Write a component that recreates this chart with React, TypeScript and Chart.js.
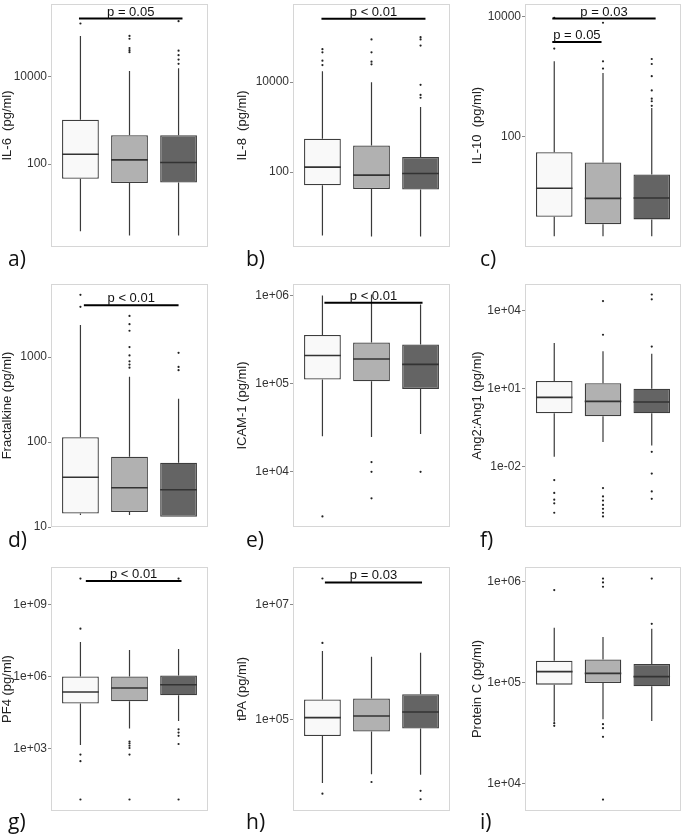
import React, { useEffect, useRef } from 'react';
import { Chart, registerables } from 'chart.js';

Chart.register(...registerables);

// ---------- data ----------
// x positions of the three groups
const GROUPS = [1, 2, 3];
const BOX_COLORS = ['#F9F9F9', '#B1B1B1', '#646464'];

// each box: [lower whisker, Q1, median, Q3, upper whisker]
// a) IL-6
const IL6_BOX = [[2.9, 46, 168, 1040, 87000], [2.3, 37, 125, 460, 13600], [2.3, 38, 109, 460, 15900]];
const IL6_OUT = [[168000], [87000, 75000, 46000, 41000, 37000], [190000, 40000, 31600, 25000, 20000]];
const IL6_SIG: [number, number, number, string][] = [[0.97, 3.08, 218000, 'p = 0.05']];
const IL6_TICKS = [100, 10000];
const IL6_TICK_LABELS = ['100', '10000'];
const IL6_RANGE = [1.26, 470000];

// b) IL-8
const IL8_BOX = [[3.9, 51, 129, 550, 17400], [3.7, 42, 86, 390, 10000], [3.7, 41, 93, 217, 2800]];
const IL8_OUT = [[54000, 46000, 30000, 24000], [89000, 46000, 28500, 24900], [100000, 89000, 65000, 8700, 5200, 4500]];
const IL8_SIG: [number, number, number, string][] = [[0.98, 3.1, 255000, 'p < 0.01']];
const IL8_TICKS = [100, 10000];
const IL8_TICK_LABELS = ['100', '10000'];
const IL8_RANGE = [2.17, 545000];

// c) IL-10
const IL10_BOX = [[2.2, 4.65, 13.8, 55, 1780], [2.2, 3.5, 9.4, 37, 1140], [2.2, 4.2, 9.5, 23.5, 300]];
const IL10_OUT = [[9400, 2900], [7800, 1780, 1350], [1950, 1610, 1010, 585, 427, 387, 324]];
const IL10_SIG: [number, number, number, string][] = [[0.96, 3.08, 9160, 'p = 0.03'], [0.96, 1.97, 3750, 'p = 0.05']];
const IL10_TICKS = [100, 10000];
const IL10_TICK_LABELS = ['100', '10000'];
const IL10_RANGE = [1.46, 16000];

// d) Fractalkine
const FKN_BOX = [[13.8, 14.4, 38.5, 114, 2380], [13.8, 15, 29, 67, 585], [13.2, 13.2, 27.4, 57, 322]];
const FKN_OUT = [[5400, 3900], [3050, 2440, 2040, 1310, 1045, 890, 815, 750], [1120, 765, 700]];
const FKN_SIG: [number, number, number, string][] = [[1.07, 3.0, 4060, 'p < 0.01']];
const FKN_TICKS = [10, 100, 1000];
const FKN_TICK_LABELS = ['10', '100', '1000'];
const FKN_RANGE = [10, 7240];

// e) ICAM-1
const ICAM_BOX = [[25300, 111000, 208000, 355000, 1000000], [24800, 106000, 190000, 293000, 1020000], [26800, 87000, 165000, 277000, 790000]];
const ICAM_OUT = [[3120], [12900, 10000, 5000], [10000]];
const ICAM_SIG: [number, number, number, string][] = [[1.04, 3.04, 824000, 'p < 0.01']];
const ICAM_TICKS = [1e4, 1e5, 1e6];
const ICAM_TICK_LABELS = ['1e+04', '1e+05', '1e+06'];
const ICAM_RANGE = [2366, 1346000];

// f) Ang2:Ang1
const ANG_BOX = [[0.024, 1.12, 4.55, 19.6, 558], [0.089, 0.86, 3.2, 16, 270], [0.065, 1.12, 3.04, 9.8, 214]];
const ANG_OUT = [
  [0.00304, 0.00098, 0.00054, 0.00039, 0.00017],
  [22700, 1160, 0.0015, 0.00072, 0.0005, 0.00034, 0.00024, 0.00017, 0.000123],
  [40700, 26500, 408, 0.037, 0.0054, 0.00112, 0.00058],
];
const ANG_SIG: [number, number, number, string][] = [];
const ANG_TICKS = [0.01, 10, 1e4];
const ANG_TICK_LABELS = ['1e-02', '1e+01', '1e+04'];
const ANG_RANGE = [4.82e-5, 103000];

// g) PF4
const PF4_BOX = [[1390, 75000, 225000, 1000000, 27600000], [6800, 93000, 330000, 1000000, 12600000], [14000, 165000, 455000, 1100000, 13800000]];
const PF4_OUT = [[1.2e10, 9.8e7, 556, 295, 7.5], [1960, 1620, 1300, 1050, 556, 7.5], [1.2e10, 6300, 4600, 3360, 1540, 7.5]];
const PF4_SIG: [number, number, number, string][] = [[1.11, 3.06, 9.6e9, 'p < 0.01']];
const PF4_TICKS = [1e3, 1e6, 1e9];
const PF4_TICK_LABELS = ['1e+03', '1e+06', '1e+09'];
const PF4_RANGE = [2.49, 3.64e10];

// h) tPA
const TPA_BOX = [[7700, 50800, 107000, 222000, 1560000], [10900, 61000, 114000, 231000, 1240000], [10700, 68800, 134000, 274000, 1460000]];
const TPA_OUT = [[29000000, 2170000, 5000], [8000], [5600, 4000]];
const TPA_SIG: [number, number, number, string][] = [[1.05, 3.03, 2.47e7, 'p = 0.03']];
const TPA_TICKS = [1e5, 1e7];
const TPA_TICK_LABELS = ['1e+05', '1e+07'];
const TPA_RANGE = [2490, 4.61e7];

// i) Protein C
const PC_BOX = [[40800, 95000, 128000, 164000, 348000], [43000, 98500, 123000, 169000, 282000], [41500, 91400, 114000, 152000, 340000]];
const PC_OUT = [[822000, 39400, 37100], [1070000, 980000, 887000, 38500, 35200, 28900, 6900], [1070000, 381000]];
const PC_SIG: [number, number, number, string][] = [];
const PC_TICKS = [1e4, 1e5, 1e6];
const PC_TICK_LABELS = ['1e+04', '1e+05', '1e+06'];
const PC_RANGE = [5310, 1393000];

// ---------- layout ----------
const COLS = [
  { canvasLeft: 0, frameLeft: 51, frameRight: 210, labelX: 8 },
  { canvasLeft: 235, frameLeft: 293, frameRight: 452, labelX: 246 },
  { canvasLeft: 470, frameLeft: 525, frameRight: 683, labelX: 480 },
];
const ROWS = [
  { top: 1, bottom: 247, labelTop: 248 },
  { top: 281, bottom: 527, labelTop: 529 },
  { top: 564, bottom: 811, labelTop: 811 },
];

const PANELS = [
  { tag: 'a)', title: 'IL-6  (pg/ml)', box: IL6_BOX, out: IL6_OUT, sig: IL6_SIG, ticks: IL6_TICKS, tickLabels: IL6_TICK_LABELS, range: IL6_RANGE, col: 0, row: 0 },
  { tag: 'b)', title: 'IL-8  (pg/ml)', box: IL8_BOX, out: IL8_OUT, sig: IL8_SIG, ticks: IL8_TICKS, tickLabels: IL8_TICK_LABELS, range: IL8_RANGE, col: 1, row: 0 },
  { tag: 'c)', title: 'IL-10  (pg/ml)', box: IL10_BOX, out: IL10_OUT, sig: IL10_SIG, ticks: IL10_TICKS, tickLabels: IL10_TICK_LABELS, range: IL10_RANGE, col: 2, row: 0 },
  { tag: 'd)', title: 'Fractalkine (pg/ml)', box: FKN_BOX, out: FKN_OUT, sig: FKN_SIG, ticks: FKN_TICKS, tickLabels: FKN_TICK_LABELS, range: FKN_RANGE, col: 0, row: 1 },
  { tag: 'e)', title: 'ICAM-1 (pg/ml)', box: ICAM_BOX, out: ICAM_OUT, sig: ICAM_SIG, ticks: ICAM_TICKS, tickLabels: ICAM_TICK_LABELS, range: ICAM_RANGE, col: 1, row: 1 },
  { tag: 'f)', title: 'Ang2:Ang1 (pg/ml)', box: ANG_BOX, out: ANG_OUT, sig: ANG_SIG, ticks: ANG_TICKS, tickLabels: ANG_TICK_LABELS, range: ANG_RANGE, col: 2, row: 1 },
  { tag: 'g)', title: 'PF4 (pg/ml)', box: PF4_BOX, out: PF4_OUT, sig: PF4_SIG, ticks: PF4_TICKS, tickLabels: PF4_TICK_LABELS, range: PF4_RANGE, col: 0, row: 2 },
  { tag: 'h)', title: 'tPA (pg/ml)', box: TPA_BOX, out: TPA_OUT, sig: TPA_SIG, ticks: TPA_TICKS, tickLabels: TPA_TICK_LABELS, range: TPA_RANGE, col: 1, row: 2 },
  { tag: 'i)', title: 'Protein C (pg/ml)', box: PC_BOX, out: PC_OUT, sig: PC_SIG, ticks: PC_TICKS, tickLabels: PC_TICK_LABELS, range: PC_RANGE, col: 2, row: 2 },
];

const FONT = '"Liberation Sans", Arial, sans-serif';
const PAD_TOP = 1;
const PAD_BOTTOM = 10;
const PAD_RIGHT = 2;
const HALF_BOX = 0.375;

const framePlugin = {
  id: 'frame',
  beforeDatasetsDraw(chart: any) {
    const { ctx, chartArea: a } = chart;
    ctx.save();
    ctx.strokeStyle = '#D6D6D6';
    ctx.lineWidth = 1;
    ctx.strokeRect(a.left + 0.5, a.top + 0.5, a.right - a.left - 1, a.bottom - a.top - 1);
    ctx.restore();
  },
};

function makeSigPlugin(sig: [number, number, number, string][]) {
  return {
    id: 'sigLabels',
    afterDatasetsDraw(chart: any) {
      const { ctx } = chart;
      const xs = chart.scales.x;
      const ys = chart.scales.y;
      ctx.save();
      ctx.font = '13px ' + FONT;
      ctx.fillStyle = '#111';
      ctx.textAlign = 'center';
      ctx.textBaseline = 'alphabetic';
      for (const [x1, x2, v, label] of sig) {
        ctx.fillText(label, xs.getPixelForValue((x1 + x2) / 2), ys.getPixelForValue(v) - 3);
      }
      ctx.restore();
    },
  };
}

function Panel({ p }: { p: (typeof PANELS)[number] }) {
  const ref = useRef<HTMLCanvasElement>(null);
  const col = COLS[p.col];
  const row = ROWS[p.row];
  const width = col.frameRight + PAD_RIGHT - col.canvasLeft;
  const height = row.bottom - row.top + PAD_TOP + PAD_BOTTOM;

  useEffect(() => {
    if (!ref.current) return;
    const whiskers: any[] = [];
    const medians: any[] = [];
    const boxes: any[] = [];
    const outliers: any[] = [];
    GROUPS.forEach((g, i) => {
      const [lo, q1, med, q3, hi] = p.box[i];
      whiskers.push({ x: g, y: lo }, { x: g, y: q1 }, { x: g, y: null }, { x: g, y: q3 }, { x: g, y: hi }, { x: g, y: null });
      medians.push({ x: g - HALF_BOX, y: med }, { x: g + HALF_BOX, y: med }, { x: g + HALF_BOX, y: null });
      boxes.push({ x: g, y: [q1, q3] });
      p.out[i].forEach((v) => outliers.push({ x: g, y: v }));
    });
    const sigSets = p.sig.map(([x1, x2, v]) => ({
      type: 'line',
      data: [{ x: x1, y: v }, { x: x2, y: v }],
      borderColor: '#000',
      borderWidth: 2,
      pointRadius: 0,
      order: 0,
    }));
    const chart = new Chart(ref.current, {
      type: 'bar',
      data: {
        datasets: [
          { type: 'line', data: whiskers, borderColor: '#3a3a3a', borderWidth: 1.2, pointRadius: 0, spanGaps: false, order: 4 },
          {
            type: 'bar',
            data: boxes,
            backgroundColor: BOX_COLORS,
            borderColor: '#3d3d3d',
            borderWidth: 1.3,
            borderSkipped: false,
            categoryPercentage: 1,
            barPercentage: 0.75,
            order: 3,
          },
          { type: 'line', data: medians, borderColor: '#333', borderWidth: 1.6, pointRadius: 0, spanGaps: false, order: 2 },
          {
            type: 'line',
            data: outliers,
            showLine: false,
            pointRadius: 1.1,
            pointBackgroundColor: '#222',
            pointBorderWidth: 0,
            order: 1,
          },
          ...sigSets,
        ] as any,
      },
      options: {
        responsive: false,
        animation: false,
        events: [],
        layout: { padding: { left: 0, right: PAD_RIGHT, top: PAD_TOP, bottom: PAD_BOTTOM } },
        plugins: { legend: { display: false }, tooltip: { enabled: false } },
        scales: {
          x: {
            type: 'linear',
            min: 0.4,
            max: 3.6,
            display: false,
            offset: false,
            afterBuildTicks: (s: any) => {
              s.ticks = GROUPS.map((v) => ({ value: v }));
            },
          },
          y: {
            type: 'logarithmic',
            min: p.range[0],
            max: p.range[1],
            afterBuildTicks: (s: any) => {
              s.ticks = p.ticks.map((v) => ({ value: v }));
            },
            afterFit: (s: any) => {
              s.width = col.frameLeft - col.canvasLeft;
              s.paddingTop = 0;
              s.paddingBottom = 0;
            },
            ticks: {
              autoSkip: false,
              maxRotation: 0,
              padding: 1,
              color: '#333',
              font: { family: FONT, size: 12 },
              callback: (v: any) => {
                const idx = p.ticks.findIndex((t) => Math.abs(t - v) / t < 1e-6);
                return idx >= 0 ? p.tickLabels[idx] : '';
              },
            },
            grid: { display: true, drawOnChartArea: false, drawTicks: true, tickLength: 3, color: '#8a8a8a' },
            border: { display: false },
            title: { display: true, text: p.title, color: '#222', padding: 0, font: { family: FONT, size: 13 } },
          },
        },
      } as any,
      plugins: [framePlugin, makeSigPlugin(p.sig)],
    });
    return () => chart.destroy();
  }, []);

  return (
    <>
      <canvas
        ref={ref}
        width={width}
        height={height}
        style={{ position: 'absolute', left: col.canvasLeft, top: row.top - PAD_TOP, width, height }}
      />
      <div
        style={{
          position: 'absolute',
          left: col.labelX,
          top: row.labelTop,
          fontFamily: '"Open Sans", sans-serif',
          fontSize: 21,
          lineHeight: 1,
          color: '#111',
        }}
      >
        {p.tag}
      </div>
    </>
  );
}

export default function App() {
  return (
    <div style={{ position: 'absolute', left: 0, top: 0, width: 685, height: 834, background: '#fff', overflow: 'hidden' }}>
      {PANELS.map((p) => (
        <Panel key={p.tag} p={p} />
      ))}
    </div>
  );
}
